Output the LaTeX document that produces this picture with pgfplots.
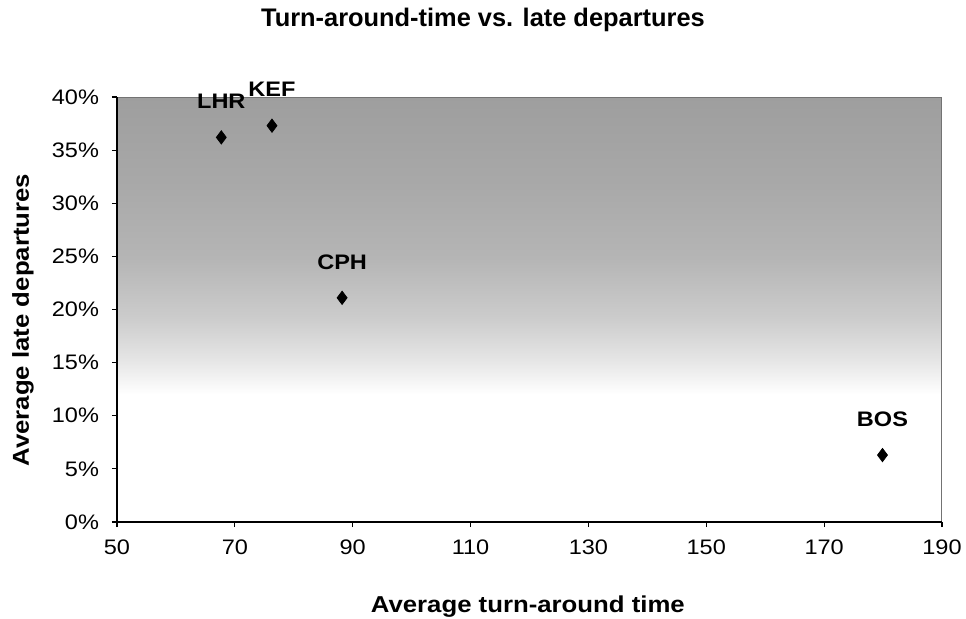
\documentclass[border=0pt]{standalone}
\usepackage{pgfplots}
\pgfplotsset{compat=1.18}
\usepackage{fontspec}
\setmainfont{Liberation Sans}
\newfontfamily\wideA{Liberation Sans}[FakeStretch=1.12]
\newfontfamily\wideB{Liberation Sans}[FakeStretch=1.12]
\pgfdeclareverticalshading{bgshade}{100bp}{color(0bp)=(white); color(25bp)=(white); color(40bp)=(white); color(44bp)=(black!10); color(49bp)=(black!20); color(56bp)=(black!29); color(65bp)=(black!34); color(75bp)=(black!38); color(100bp)=(black!38)}
\begin{document}
\begin{tikzpicture}
\path[use as bounding box] (-58.5pt,-48pt) rectangle (424.5pt,261pt);
\begin{axis}[
  scale only axis,
  width=412.5pt, height=212.5pt,
  xmin=50, xmax=190, ymin=0, ymax=40,
  xtick={50,70,...,190},
  ytick={0,5,...,40},
  yticklabel={\pgfmathprintnumber{\tick}\%},
  /pgf/number format/assume math mode=true,
  axis x line*=bottom, axis y line*=left,
  axis line style={black, line width=0.6pt},
  tick style={black, line width=0.6pt},
  tick align=outside, major tick length=2.5pt,
  ticklabel style={font=\wideA\fontsize{10.5}{12}\selectfont},
  xticklabel style={yshift=-3pt},
  yticklabel style={xshift=-3pt},
  axis background/.style={shade, shading=bgshade, draw=black!55, line width=0.5pt},
  every axis title shift=0pt,
  title={\textbf{Turn-around-time vs. late departures}},
  title style={font=\fontsize{12.7}{15}\selectfont, at={(axis description cs:0.4436,1.181)}, anchor=center},
  xlabel={\textbf{Average turn-around time}},
  xlabel style={font=\wideB\fontsize{11.5}{13}\selectfont, at={(axis description cs:0.498,-0.2)}, anchor=center},
  ylabel={\textbf{Average late departures}},
  ylabel style={font=\wideB\fontsize{11.5}{13}\selectfont, at={(axis description cs:-0.114,0.475)}, anchor=center, rotate=0},
  clip=false,
]
\addplot[only marks, mark=diamond*, mark size=3.3pt, black,
  point meta=explicit symbolic,
  nodes near coords,
  every node near coord/.style={anchor=center, yshift=18pt, font=\wideB\bfseries\fontsize{10.5}{12}\selectfont, black}]
  table[meta=label] {
x y label
67.7 36.2 LHR
76.3 37.3 KEF
88.2 21.1 CPH
179.9 6.3 BOS
};
\end{axis}
\end{tikzpicture}
\end{document}
